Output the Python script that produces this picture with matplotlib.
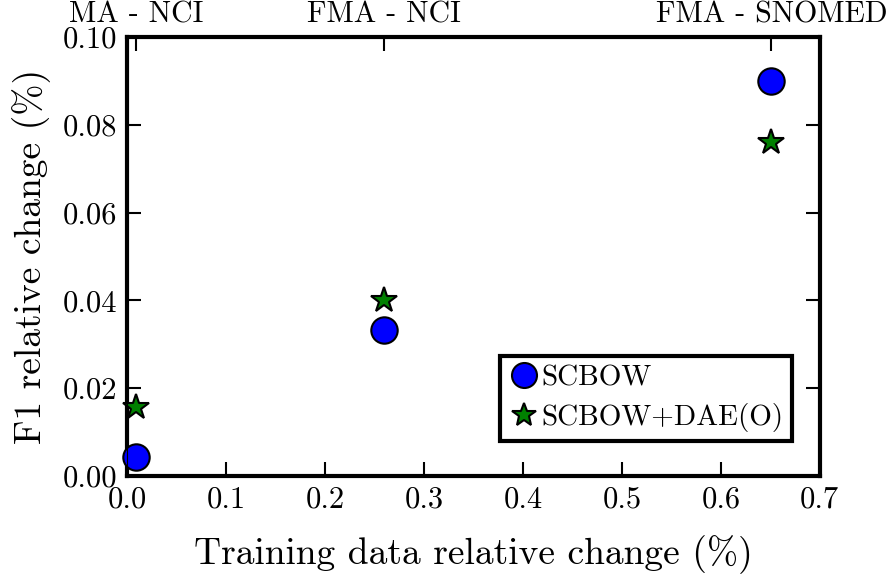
import numpy as np
import matplotlib
matplotlib.use('Agg')
import matplotlib.pyplot as plt

plt.rcParams['font.family'] = 'serif'
plt.rcParams['font.serif'] = ['cmr10']
plt.rcParams['mathtext.fontset'] = 'cm'
plt.rcParams['axes.formatter.use_mathtext'] = True

# data
datasets = ['MA - NCI', 'FMA - NCI', 'FMA - SNOMED']
train_change = [0.009, 0.260, 0.651]
scbow = [0.0043, 0.0333, 0.0900]
scbow_dae = [0.0157, 0.0402, 0.0760]

fig = plt.figure(figsize=(8.94, 5.76), dpi=100)
ax = fig.add_axes([0.142, 0.1736, 0.775, 0.7622])

ax.plot(train_change, scbow, 'o', color='blue', markeredgecolor='black',
        markeredgewidth=1.5, markersize=19, label='SCBOW', clip_on=False, zorder=3)
ax.plot(train_change, scbow_dae, '*', color='green', markeredgecolor='black',
        markeredgewidth=1.5, markersize=19, label='SCBOW+DAE(O)', clip_on=False, zorder=3)

ax.set_xlim(0, 0.7)
ax.set_ylim(0, 0.10)
ax.set_xticks(np.arange(0, 0.71, 0.1))
ax.set_yticks(np.arange(0, 0.101, 0.02))
ax.set_xticklabels(['%.1f' % v for v in np.arange(0, 0.71, 0.1)])
ax.set_yticklabels(['%.2f' % v for v in np.arange(0, 0.101, 0.02)])
ax.tick_params(direction='in', length=10, width=1.5, labelsize=22, top=False, right=True, pad=7)
for s in ax.spines.values():
    s.set_linewidth(3)

ax.set_xlabel('Training data relative change (%)', fontsize=27, labelpad=16)
ax.set_ylabel('F1 relative change (%)', fontsize=27, labelpad=8)

ax2 = ax.twiny()
ax2.set_xlim(ax.get_xlim())
ax2.set_xticks(train_change)
ax2.set_xticklabels(datasets)
ax2.tick_params(direction='in', length=10, width=1.5, labelsize=21.5, pad=6)

leg = ax.legend(loc='lower right', bbox_to_anchor=(0.96, 0.08), fontsize=21,
                numpoints=1, fancybox=False, framealpha=1, handletextpad=0.1, borderpad=0.3,
                handlelength=1.0, borderaxespad=0, labelspacing=0.4)
leg.get_frame().set_edgecolor('black')
leg.get_frame().set_linewidth(3)
for h in leg.legend_handles:
    h.set_markersize(18)

plt.savefig('out.png', dpi=100)
